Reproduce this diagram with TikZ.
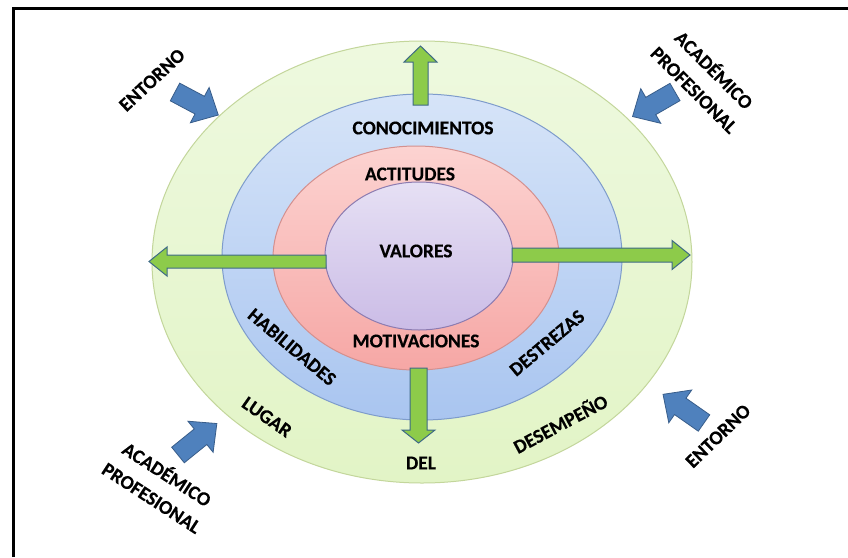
\documentclass[tikz,border=0pt]{standalone}
\usepackage{fontspec}
\setmainfont{Carlito}[BoldFeatures={FakeBold=0.4}]
\usetikzlibrary{shapes.geometric}
\definecolor{gfillA}{HTML}{EEF9DF}
\definecolor{gfillB}{HTML}{E2F4C6}
\definecolor{gline}{HTML}{C3D69B}
\definecolor{bfillA}{HTML}{D6E4F8}
\definecolor{bfillB}{HTML}{A9C5F0}
\definecolor{bline}{HTML}{7E9CCB}
\definecolor{rfillA}{HTML}{FCD3D1}
\definecolor{rfillB}{HTML}{F6A7A5}
\definecolor{rline}{HTML}{D4908E}
\definecolor{pfillA}{HTML}{E6E0F4}
\definecolor{pfillB}{HTML}{CBBCE6}
\definecolor{pline}{HTML}{8C7BB0}
\definecolor{arrgreen}{HTML}{8DCB4A}
\definecolor{arrgline}{HTML}{3E6A86}
\definecolor{arrblue}{HTML}{4F81BD}
\definecolor{arrbline}{HTML}{385D8A}
\tikzset{
  pics/barrow/.style args={#1/#2/#3/#4}{code={
    \path[pic actions] (0,-#2) -- ({#1-#4},-#2) -- ({#1-#4},-#3) -- (#1,0)
      -- ({#1-#4},#3) -- ({#1-#4},#2) -- (0,#2) -- cycle;}},
  greenarrow/.style={draw=arrgline, fill=arrgreen, line width=1pt, line join=miter},
  bluearrow/.style={draw=arrbline, fill=arrblue, line width=0.8pt, line join=miter},
  lbl/.style={font=\bfseries\fontsize{19.5}{28}\selectfont, text=black, inner sep=0pt, align=center},
}
\begin{document}
\begin{tikzpicture}[x=1pt,y=-1pt]
\useasboundingbox (0,0) rectangle (848,557);
\fill[white] (0,0) rectangle (848,557);
% frame
\draw[line width=3pt] (13,557) -- (13,8.5) -- (848,8.5);
% rings
\path[draw=gline, line width=1pt, top color=gfillA, bottom color=gfillB] (422,262) ellipse [x radius=270, y radius=221];
\path[draw=bline, line width=1pt, top color=bfillA, bottom color=bfillB] (422,257) ellipse [x radius=200, y radius=163];
\path[draw=rline, line width=1pt, top color=rfillA, bottom color=rfillB] (416,258) ellipse [x radius=143, y radius=112];
\path[draw=pline, line width=1pt, top color=pfillA, bottom color=pfillB] (419,256) ellipse [x radius=94, y radius=74];
% green arrows
\pic[greenarrow] at (420.5,105) [rotate=90] {barrow={59/7.5/16.5/16}};
\pic[greenarrow] at (326,261.5) [rotate=180] {barrow={177/6.5/14.5/18}};
\pic[greenarrow] at (512,255) {barrow={178/7/14.5/18}};
\pic[greenarrow] at (418.5,368) [rotate=-90] {barrow={75/8.5/16.5/13}};
% blue arrows
\pic[bluearrow] at (175,92) [rotate=-28] {barrow={49/10/20/21}};
\pic[bluearrow] at (675,92) [rotate=210] {barrow={49/10/20/21}};
\pic[bluearrow] at (178,455) [rotate=39] {barrow={50/10/20/21}};
\pic[bluearrow] at (704,423) [rotate=145] {barrow={50/10/20/21}};
% ring labels
\node[lbl] (conoc) at (423,128) {CONOCIMIENTOS};
\node[lbl] (actit) at (410,174) {ACTITUDES};
\node[lbl] (valor) at (416,251) {VALORES};
\node[lbl] (motiv) at (416,341) {MOTIVACIONES};
\node[lbl, rotate=-40] (habil) at (292,347) {HABILIDADES};
\node[lbl, rotate=40] (destr) at (547,343) {DESTREZAS};
\node[lbl, rotate=-35] (lugar) at (267,417) {LUGAR};
\node[lbl] (del) at (421,463) {DEL};
\node[lbl, rotate=28] (desem) at (560,423) {DESEMPEÑO};
% outer labels
\node[lbl, rotate=43] (entA) at (152,80) {ENTORNO};
\node[lbl, rotate=-45] (acadA) at (705,79) {ACADÉMICO\\PROFESIONAL};
\node[lbl, rotate=-33] (acadB) at (160,485) {ACADÉMICO\\PROFESIONAL};
\node[lbl, rotate=44] (entB) at (718,436) {ENTORNO};
\end{tikzpicture}
\end{document}
